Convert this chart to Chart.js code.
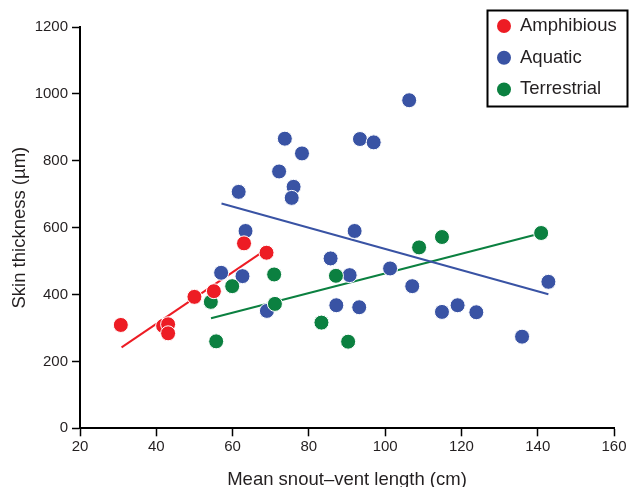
<!DOCTYPE html>
<html>
<head>
<meta charset="utf-8">
<script src="https://cdn.jsdelivr.net/npm/chart.js@4.4.1/dist/chart.umd.min.js"></script>
<style>
  html, body { margin: 0; padding: 0; background: #ffffff; }
  #wrap { width: 629px; height: 487px; position: relative; }
</style>
</head>
<body>
<div id="wrap"><canvas id="c" width="629" height="487"></canvas></div>
<script>
// ---- data ----
const seriesNames = ["Amphibious", "Aquatic", "Terrestrial"];

const amphX = [30.7, 41.8, 43.1, 43.1, 50.0, 55.1, 63.0, 68.9];
const amphY = [309, 306, 311, 284, 393, 410, 553, 525];

const aquaX = [61.6, 73.7, 72.2, 78.2, 76.0, 75.5, 63.4, 106.3, 93.4, 97.0, 92.0, 57.0, 62.6, 69.0,
               85.7, 90.7, 87.2, 93.2, 101.3, 107.1, 114.9, 119.0, 123.9, 135.9, 142.8];
const aquaY = [707, 866, 768, 822, 722, 689, 590, 981, 865, 855, 590, 465, 455, 351,
               508, 458, 368, 362, 478, 425, 348, 368, 347, 274, 438];

const terrX = [54.3, 59.9, 70.9, 71.1, 55.7, 83.3, 87.1, 90.3, 108.9, 114.9, 140.9];
const terrY = [378, 425, 460, 372, 260, 316, 456, 259, 541, 572, 584];

// fitted trend lines (end points)
const amphLineX = [30.9, 67.3];
const amphLineY = [242, 523];
const aquaLineX = [57.1, 142.8];
const aquaLineY = [672, 401];
const terrLineX = [54.35, 140.9];
const terrLineY = [329, 583];

const xTicks = [20, 40, 60, 80, 100, 120, 140, 160];
const yTicks = [0, 200, 400, 600, 800, 1000, 1200];

const colors = ["#ed1c24", "#3953a4", "#0b8040"];

const toPts = (xs, ys) => xs.map((x, i) => ({ x: x, y: ys[i] }));

const FONT = "'Liberation Sans', Arial, Helvetica, sans-serif";
const TXT = "#231f20";

const pointDs = (label, xs, ys, col, order) => ({
  type: "scatter",
  label: label,
  data: toPts(xs, ys),
  backgroundColor: col,
  borderColor: "#ffffff",
  borderWidth: 1,
  pointRadius: 7.5,
  pointHoverRadius: 7.5,
  order: order
});
const lineDs = (xs, ys, col) => ({
  type: "line",
  label: "",
  data: toPts(xs, ys),
  borderColor: col,
  borderWidth: 2,
  pointRadius: 0,
  fill: false,
  order: 10
});

const legendPlugin = {
  id: "boxLegend",
  afterDraw(chart) {
    const ctx = chart.ctx;
    ctx.save();
    const bx = 487.5, by = 10.5, bw = 140, bh = 96;
    ctx.fillStyle = "#ffffff";
    ctx.fillRect(bx, by, bw, bh);
    ctx.lineWidth = 2;
    ctx.strokeStyle = "#000000";
    ctx.strokeRect(bx, by, bw, bh);
    ctx.font = "18.5px " + FONT;
    ctx.textBaseline = "middle";
    ctx.textAlign = "left";
    seriesNames.forEach((name, i) => {
      const cy = 26 + i * 31.7;
      ctx.beginPath();
      ctx.arc(504, cy, 7, 0, Math.PI * 2);
      ctx.fillStyle = colors[i];
      ctx.fill();
      ctx.fillStyle = TXT;
      ctx.fillText(name, 520, cy);
    });
    ctx.restore();
  }
};

new Chart(document.getElementById("c"), {
  data: {
    datasets: [
      pointDs(seriesNames[0], amphX, amphY, colors[0], 1),
      pointDs(seriesNames[1], aquaX, aquaY, colors[1], 3),
      pointDs(seriesNames[2], terrX, terrY, colors[2], 2),
      lineDs(amphLineX, amphLineY, colors[0]),
      lineDs(aquaLineX, aquaLineY, colors[1]),
      lineDs(terrLineX, terrLineY, colors[2])
    ]
  },
  options: {
    responsive: false,
    animation: false,
    devicePixelRatio: 1,
    layout: { padding: { left: 0, right: 15, top: 27, bottom: 0 } },
    plugins: {
      legend: { display: false },
      tooltip: { enabled: false }
    },
    scales: {
      x: {
        type: "linear",
        position: "bottom",
        min: 20, max: 160,
        afterBuildTicks: (s) => { s.ticks = xTicks.map(v => ({ value: v })); },
        afterFit: (s) => { s.height = 58.7; },
        grid: { display: true, drawOnChartArea: false, drawTicks: true, tickLength: 8, tickColor: "#000000", tickWidth: 1.5 },
        border: { display: true, color: "#000000", width: 2 },
        ticks: { color: TXT, font: { family: FONT, size: 15 }, padding: 2, maxRotation: 0,
                 callback: (v) => String(v) },
        title: { display: true, text: "Mean snout\u2013vent length (cm)", color: TXT,
                 font: { family: FONT, size: 18.5, lineHeight: 0.8 }, padding: { top: 0, bottom: 0 } }
      },
      y: {
        type: "linear",
        position: "left",
        min: 0, max: 1200,
        afterBuildTicks: (s) => { s.ticks = yTicks.map(v => ({ value: v })); },
        afterFit: (s) => { s.width = 80; },
        grid: { display: true, drawOnChartArea: false, drawTicks: true, tickLength: 8, tickColor: "#000000", tickWidth: 1.5 },
        border: { display: true, color: "#000000", width: 2 },
        ticks: { color: TXT, font: { family: FONT, size: 15 }, padding: 4,
                 callback: (v) => String(v) },
        title: { display: true, text: "Skin thickness (\u00b5m)", color: TXT,
                 font: { family: FONT, size: 18.5 }, padding: { top: 9, bottom: 0 } }
      }
    }
  },
  plugins: [legendPlugin]
});
</script>
</body>
</html>
